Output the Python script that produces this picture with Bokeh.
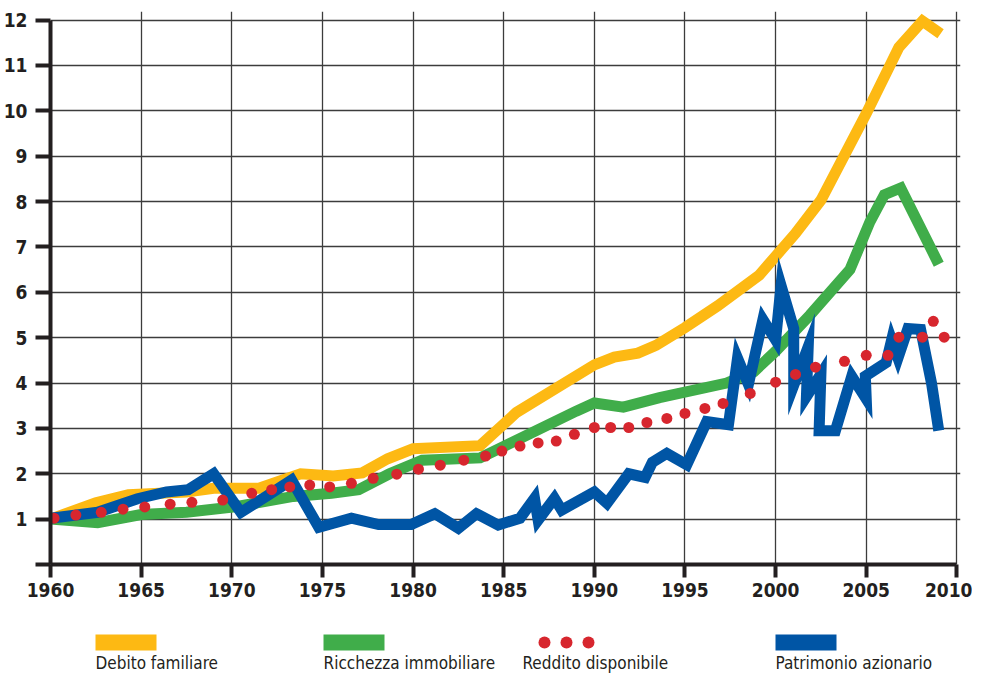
from bokeh.plotting import figure
from bokeh.models import Range1d, FixedTicker
from bokeh.layouts import column
from bokeh.embed import file_html
from bokeh.resources import INLINE
from bokeh.core.properties import value

# ---------------- data ----------------
debito_x = [1960, 1962.5, 1964.3, 1967.5, 1969, 1971.5, 1973.8, 1975.6, 1977.2, 1978.6,
            1980, 1983.7, 1985.7, 1990, 1991.1, 1992.4, 1993.4, 1995, 1996.8, 1999.1,
            2001.1, 2002.5, 2005, 2006.8, 2008.1, 2009.1]
debito_y = [1.0, 1.36, 1.54, 1.6, 1.68, 1.68, 2.0, 1.95, 2.02, 2.33,
            2.55, 2.62, 3.35, 4.4, 4.57, 4.66, 4.83, 5.22, 5.7, 6.38,
            7.3, 8.03, 9.94, 11.4, 11.98, 11.7]

ricchezza_x = [1960, 1962.6, 1965, 1967.5, 1970.3, 1973.4, 1975.5, 1977, 1978.7, 1980.5,
               1983.7, 1985, 1989, 1990, 1991.6, 1993.6, 1997.3, 1998.8, 2000, 2001.9,
               2004.1, 2005.2, 2006, 2006.9, 2009]
ricchezza_y = [1.0, 0.92, 1.1, 1.15, 1.28, 1.5, 1.57, 1.65, 2.0, 2.3,
               2.35, 2.6, 3.38, 3.56, 3.47, 3.68, 4.0, 4.25, 4.7, 5.5,
               6.5, 7.55, 8.15, 8.3, 6.62]

reddito_x = [1960.2, 1961.4, 1962.8, 1964.0, 1965.2, 1966.6, 1967.8, 1969.5, 1971.1, 1972.2,
             1973.2, 1974.3, 1975.4, 1976.6, 1977.8, 1979.1, 1980.3, 1981.5, 1982.8, 1984.0,
             1984.9, 1985.9, 1986.9, 1987.9, 1988.9, 1990.0, 1990.9, 1991.9, 1992.9, 1994.0,
             1995.0, 1996.1, 1997.1, 1998.6, 2000.0, 2001.1, 2002.2, 2003.8, 2005.0, 2006.2,
             2006.8, 2008.1, 2008.7, 2009.3]
reddito_y = [1.02, 1.09, 1.15, 1.22, 1.27, 1.33, 1.37, 1.42, 1.57, 1.65,
             1.71, 1.75, 1.71, 1.79, 1.9, 1.99, 2.1, 2.19, 2.3, 2.39,
             2.5, 2.61, 2.68, 2.72, 2.87, 3.02, 3.02, 3.02, 3.13, 3.22,
             3.33, 3.44, 3.55, 3.77, 4.02, 4.19, 4.35, 4.48, 4.61, 4.61,
             5.01, 5.01, 5.36, 5.01]

patrimonio_x = [1960, 1962.6, 1964.8, 1966.4, 1967.6, 1969.0, 1970.5, 1971.9, 1973.3, 1974.8,
                1976.6, 1978.1, 1979.9, 1981.2, 1982.5, 1983.5, 1984.7, 1985.9, 1986.7, 1986.9,
                1987.8, 1988.2, 1990.0, 1990.7, 1991.9, 1992.8, 1993.2, 1994.0, 1995.1, 1996.2,
                1997.4, 1997.9, 1998.5, 1999.3, 2000.0, 2000.3, 2001.0, 2001.0, 2001.8, 2001.7,
                2002.5, 2002.4, 2003.3, 2004.2, 2005.0, 2004.95, 2006.1, 2006.4, 2006.75, 2007.3,
                2008.0, 2008.6, 2009.0]
patrimonio_y = [1.02, 1.15, 1.45, 1.6, 1.65, 2.0, 1.15, 1.5, 1.86, 0.82,
                1.02, 0.88, 0.88, 1.12, 0.8, 1.12, 0.87, 1.02, 1.46, 0.98,
                1.46, 1.2, 1.6, 1.35, 2.0, 1.92, 2.25, 2.45, 2.2, 3.15,
                3.08, 4.55, 3.97, 5.4, 4.95, 6.15, 5.2, 3.95, 4.8, 3.7,
                4.2, 2.95, 2.95, 4.15, 3.65, 4.15, 4.45, 4.95, 4.55, 5.2,
                5.18, 4.0, 2.95]

x_ticks = [1960, 1965, 1970, 1975, 1980, 1985, 1990, 1995, 2000, 2005, 2010]
y_ticks = [0, 1, 2, 3, 4, 5, 6, 7, 8, 9, 10, 11, 12]

legend_labels = ["Debito familiare", "Ricchezza immobiliare", "Reddito disponibile", "Patrimonio azionario"]

# ---------------- style ----------------
YELLOW = "#fdb913"
GREEN = "#40ad4a"
RED = "#d7262e"
BLUE = "#0055a5"
INK = "#231f20"
FONT = "'Liberation Sans Narrow', 'DejaVu Sans Condensed', sans-serif"

BL, BR = 45, 12          # left / right borders (same for both figures)
FW = 910                 # frame width
TOP = 11                 # top border of main figure
MAIN_H = TOP + 553 + 40  # total height of main figure

p = figure(frame_width=FW, frame_height=553,
           x_range=Range1d(1960, 2010.2), y_range=Range1d(0, 12.19),
           output_backend="svg", toolbar_location=None,
           min_border_left=BL, min_border_right=BR, min_border_top=TOP, min_border_bottom=40)
p.outline_line_color = None
p.background_fill_color = "white"
p.border_fill_color = "white"

p.xgrid.ticker = FixedTicker(ticks=x_ticks[1:])
p.ygrid.ticker = FixedTicker(ticks=y_ticks[1:])
for g in (p.xgrid, p.ygrid):
    g.grid_line_color = "#3c3c3c"
    g.grid_line_width = 1.3

for ax, ticks, bnds in ((p.xaxis, x_ticks, (1960, 2010)), (p.yaxis, y_ticks, (0, 12))):
    ax.ticker = FixedTicker(ticks=ticks)
    ax.bounds = bnds
    ax.axis_line_width = 4
    ax.axis_line_color = INK
    ax.major_tick_line_width = 4
    ax.major_tick_line_color = INK
    ax.major_tick_in = 0
    ax.minor_tick_line_color = None
    ax.major_label_text_font = FONT
    ax.major_label_text_font_style = "bold"
    ax.major_label_text_font_size = "19px"
    ax.major_label_text_color = INK

p.xaxis.major_tick_out = 13
p.xaxis.major_label_standoff = 5
p.yaxis.major_tick_out = 15
p.yaxis.major_label_standoff = 8
p.yaxis.major_label_overrides = {0: ""}

LW = 11
p.line(debito_x, debito_y, line_color=YELLOW, line_width=LW, line_join="miter")
p.line(ricchezza_x, ricchezza_y, line_color=GREEN, line_width=LW, line_join="miter")
p.line(patrimonio_x, patrimonio_y, line_color=BLUE, line_width=LW, line_join="miter")
p.scatter(reddito_x, reddito_y, size=11, fill_color=RED, line_color=None)

# ---------------- legend strip (coordinates = pixels of the picture) ----------------
LH = 72
page_left = 8 + BL
lg = figure(frame_width=FW, frame_height=LH,
            x_range=Range1d(page_left, page_left + FW), y_range=Range1d(MAIN_H + LH, MAIN_H),
            output_backend="svg", toolbar_location=None,
            min_border_left=BL, min_border_right=BR, min_border_top=0, min_border_bottom=0,
            x_axis_type=None, y_axis_type=None)
lg.outline_line_color = None
lg.grid.visible = False
lg.background_fill_color = "white"
lg.border_fill_color = "white"

item_left = [98, 326, 525, 778]
sw_w, sw_h, sw_top = 61, 16, 634
lg.rect(x=[item_left[0] + sw_w / 2], y=[sw_top + sw_h / 2], width=sw_w, height=sw_h,
        fill_color=YELLOW, line_color=None)
lg.rect(x=[item_left[1] + sw_w / 2], y=[sw_top + sw_h / 2], width=sw_w, height=sw_h,
        fill_color=GREEN, line_color=None)
lg.rect(x=[item_left[3] + sw_w / 2], y=[sw_top + sw_h / 2], width=sw_w, height=sw_h,
        fill_color=BLUE, line_color=None)
lg.scatter(x=[547, 569, 591], y=[sw_top + sw_h / 2] * 3, size=12, fill_color=RED, line_color=None)
lg.text(x=item_left, y=[652] * 4, text=legend_labels, text_font=value(FONT),
        text_font_size=value("17px"), text_color=INK, text_baseline="top")

layout = column(p, lg, spacing=0)
open("out.html", "w").write(file_html(layout, INLINE))
